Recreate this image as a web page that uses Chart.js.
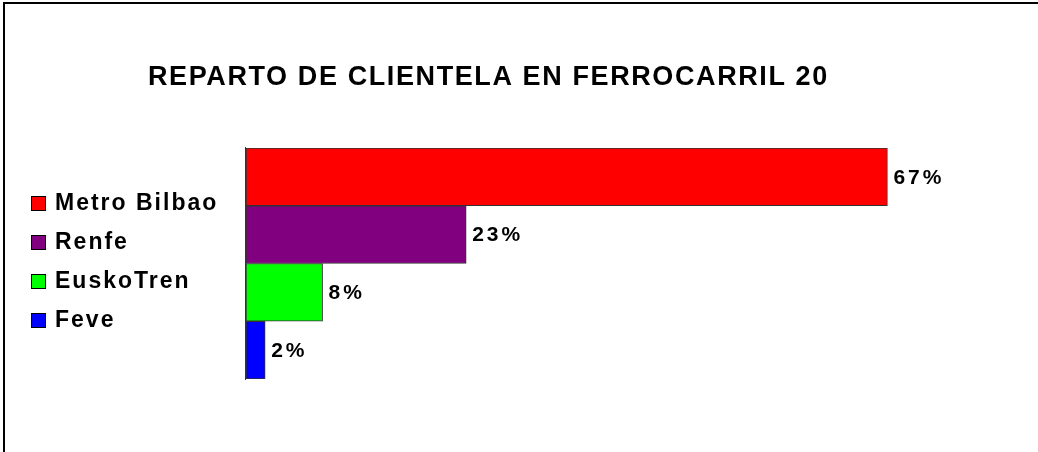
<!DOCTYPE html>
<html>
<head>
<meta charset="utf-8">
<script src="https://cdn.jsdelivr.net/npm/chart.js@4.4.1/dist/chart.umd.min.js"></script>
<style>
  html, body { margin: 0; padding: 0; background: #fff; }
</style>
</head>
<body>
<canvas id="railChart" width="1038" height="452"></canvas>
<script>
const companies = ['Metro Bilbao', 'Renfe', 'EuskoTren', 'Feve'];
const shares = [67, 23, 8, 2];
const barColors = ['#ff0000', '#800080', '#00ff00', '#0000ff'];
const chartTitle = 'REPARTO DE CLIENTELA EN FERROCARRIL 20';

// title, legend, value labels and frame are drawn by hand (clipped like the original)
const decorations = {
  id: 'decorations',
  afterDraw(chart) {
    const ctx = chart.ctx;
    const area = chart.chartArea;
    const xs = chart.scales.x;
    const ys = chart.scales.y;
    ctx.save();

    // outer frame (top + left only)
    ctx.fillStyle = '#000';
    ctx.fillRect(3, 2, chart.width - 3, 2);
    ctx.fillRect(3, 2, 2, chart.height - 2);

    // axis line
    ctx.fillStyle = '#333';
    ctx.fillRect(area.left - 1, area.top - 1, 1, area.bottom - area.top + 2);

    // title
    ctx.save();
    ctx.beginPath();
    ctx.rect(0, 0, 832, 140);
    ctx.clip();
    ctx.fillStyle = '#000';
    ctx.font = 'bold 27px "Liberation Sans", Arial, sans-serif';
    ctx.letterSpacing = '1.6px';
    ctx.textBaseline = 'middle';
    ctx.fillText(chartTitle, 148, 78);
    ctx.restore();

    // legend
    ctx.save();
    ctx.beginPath();
    ctx.rect(0, 140, 218, 260);
    ctx.clip();
    ctx.font = 'bold 23px "Liberation Sans", Arial, sans-serif';
    ctx.letterSpacing = '2px';
    ctx.textBaseline = 'middle';
    companies.forEach((name, i) => {
      const y = 203 + i * 39;
      ctx.fillStyle = barColors[i];
      ctx.fillRect(31, y - 7, 15, 15);
      ctx.strokeStyle = '#000';
      ctx.lineWidth = 1;
      ctx.strokeRect(31.5, y - 6.5, 14, 14);
      ctx.fillStyle = '#000';
      ctx.fillText(name, 55, y + 1);
    });
    ctx.restore();

    // value labels
    ctx.font = 'bold 21px "Liberation Sans", Arial, sans-serif';
    ctx.letterSpacing = '3px';
    ctx.textBaseline = 'middle';
    ctx.fillStyle = '#000';
    shares.forEach((v, i) => {
      const x = xs.getPixelForValue(v) + 6;
      const y = ys.getPixelForValue(i) + 1;
      ctx.fillText(v + '%', x, y);
    });

    ctx.restore();
  }
};

new Chart(document.getElementById('railChart'), {
  type: 'bar',
  data: {
    labels: companies,
    datasets: [{
      data: shares,
      backgroundColor: barColors,
      borderColor: '#333',
      borderWidth: 1,
      borderSkipped: false,
      categoryPercentage: 1,
      barPercentage: 1
    }]
  },
  options: {
    indexAxis: 'y',
    responsive: false,
    animation: false,
    layout: { padding: { left: 246, right: 74, top: 148, bottom: 73 } },
    scales: {
      x: { display: false, min: 0, max: 75 },
      y: { display: false }
    },
    plugins: {
      legend: { display: false },
      title: { display: false },
      tooltip: { enabled: false }
    }
  },
  plugins: [decorations]
});
</script>
</body>
</html>
